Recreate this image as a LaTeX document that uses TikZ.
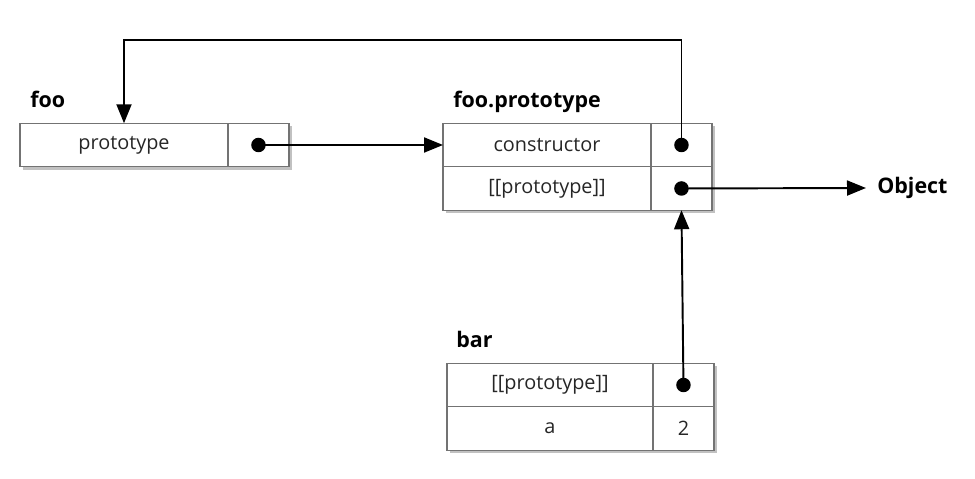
\documentclass[tikz,border=0pt]{standalone}
\usepackage{fontspec}
\setmainfont{Open Sans}
\usepackage{tikz}
\usetikzlibrary{shadows, arrows.meta, positioning}
\tikzset{
    cell/.style={draw=black!55, fill=white, line width=0.7pt, minimum height=0.87cm,
        inner sep=0pt, outer sep=0pt, text=black!85, font=\fontsize{11.3}{13}\selectfont,
        drop shadow={shadow xshift=1.6pt, shadow yshift=-1.6pt, opacity=0.35, fill=black!70}},
    namecell/.style={cell, minimum width=4.16cm},
    ptrcell/.style={cell, minimum width=1.22cm},
    pointer/.style={circle, fill=black, inner sep=0pt, minimum size=0.29cm},
    boxlabel/.style={anchor=base west, inner sep=0pt, font=\bfseries\fontsize{12.2}{14}\selectfont},
    link/.style={line width=1.1pt, line join=miter, -{Triangle[length=0.38cm, width=0.3cm]}}
}

\begin{document}
\begin{tikzpicture}[x=0.02cm, y=-0.02cm]
    \useasboundingbox (0,0) rectangle (975,479);

    % ---------- foo ----------
    \node[namecell] (fooname) at (124,145) {prototype};
    \node[ptrcell, right=0pt of fooname] (fooptr) {};
    \node[pointer] (foodot) at (fooptr.center) {};
    \node[boxlabel] (foolabel) at (30,108) {foo};

    % ---------- foo.prototype ----------
    \node[namecell] (ctorname) at (547,145) {constructor};
    \node[ptrcell, right=0pt of ctorname] (ctorptr) {};
    \node[namecell, below=0pt of ctorname] (fpname) {[[prototype]]};
    \node[ptrcell, right=0pt of fpname] (fpptr) {};
    \node[pointer] (ctordot) at (ctorptr.center) {};
    \node[pointer] (fpdot) at (fpptr.center) {};
    \node[boxlabel] (fplabel) at (453,108) {foo.prototype};

    % ---------- bar ----------
    \node[namecell, minimum width=4.12cm] (barname) at (550,385) {[[prototype]]};
    \node[ptrcell, right=0pt of barname] (barptr) {};
    \node[namecell, minimum width=4.12cm, below=0pt of barname] (aname) {a};
    \node[ptrcell, right=0pt of aname] (aval) {2};
    \node[pointer] (bardot) at (barptr.center) {};
    \node[boxlabel] (barlabel) at (456,348) {bar};

    % ---------- Object ----------
    \node[anchor=west, inner sep=0.22cm, font=\bfseries\fontsize{12.2}{14}\selectfont] (object) at (866,188) {Object};

    % ---------- links ----------
    \coordinate (loop) at (400,40);
    \draw[link] (ctordot.center) |- (loop) -| (fooname.north);
    \draw[link] (foodot.center) -- (ctorname.west);
    \draw[link] (fpdot.center) -- (object.west);
    \draw[link] (bardot.center) -- (fpptr.south);
\end{tikzpicture}
\end{document}
